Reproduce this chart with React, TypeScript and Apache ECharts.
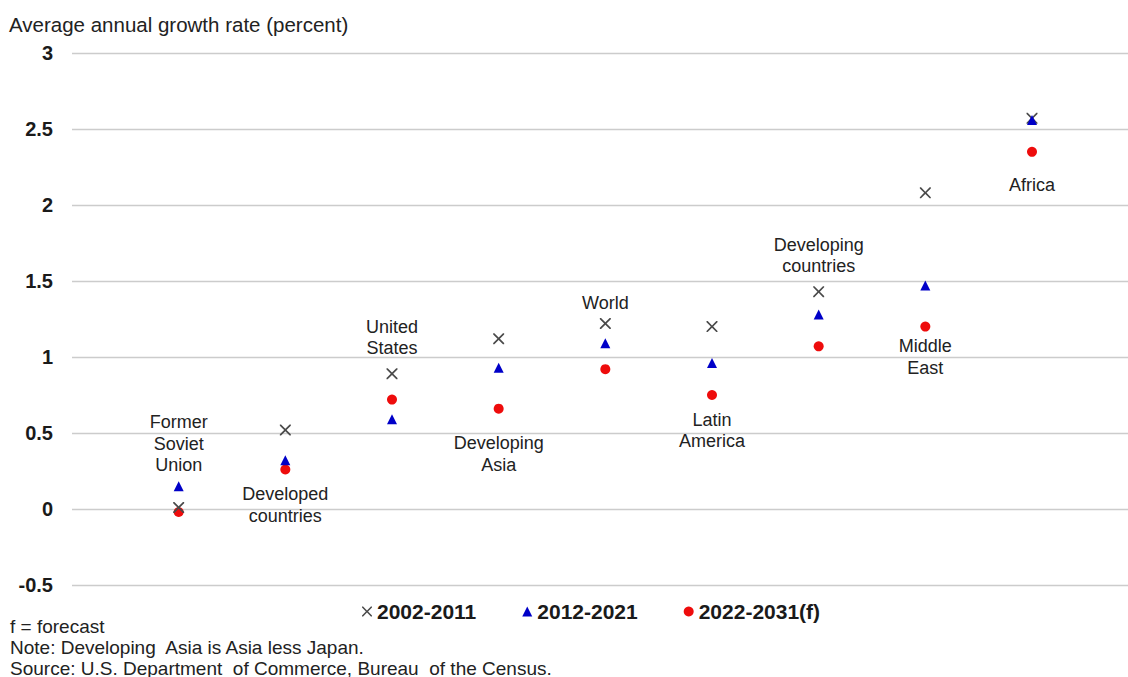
import React, { useEffect, useRef } from "react";
import * as echarts from "echarts";

const categories = [
  "Former\nSoviet\nUnion",
  "Developed\ncountries",
  "United\nStates",
  "Developing\nAsia",
  "World",
  "Latin\nAmerica",
  "Developing\ncountries",
  "Middle\nEast",
  "Africa",
];
const s2002 = [0.01, 0.52, 0.89, 1.12, 1.22, 1.2, 1.43, 2.08, 2.57];
const s2012 = [0.15, 0.32, 0.59, 0.93, 1.09, 0.96, 1.28, 1.47, 2.56];
const s2022 = [-0.02, 0.26, 0.72, 0.66, 0.92, 0.75, 1.07, 1.2, 2.35];
const seriesNames = ["2002-2011", "2012-2021", "2022-2031(f)"];
const yTicks = [-0.5, 0, 0.5, 1, 1.5, 2, 2.5, 3];
const footnotes = [
  "f = forecast",
  "Note: Developing  Asia is Asia less Japan.",
  "Source: U.S. Department  of Commerce, Bureau  of the Census.",
];

// which series carries each category's label, and where
const labelSpec: { s: number; pos: "top" | "bottom"; dist: number }[] = [
  { s: 1, pos: "top", dist: 5 },
  { s: 2, pos: "bottom", dist: 9 },
  { s: 0, pos: "top", dist: 9 },
  { s: 2, pos: "bottom", dist: 19 },
  { s: 0, pos: "top", dist: 4 },
  { s: 2, pos: "bottom", dist: 9 },
  { s: 0, pos: "top", dist: 9 },
  { s: 2, pos: "bottom", dist: 4 },
  { s: 2, pos: "bottom", dist: 17 },
];

const FONT = "'Liberation Sans', Arial, sans-serif";
const CROSS =
  "path://M0,0L1.1,0L5,3.9L8.9,0L10,0L10,1.1L6.1,5L10,8.9L10,10L8.9,10L5,6.1L1.1,10L0,10L0,8.9L3.9,5L0,1.1Z";

export default function App() {
  const ref = useRef<HTMLDivElement>(null);
  useEffect(() => {
    if (!ref.current) return;
    const chart = echarts.init(ref.current, undefined, { renderer: "svg" });
    const all = [s2002, s2012, s2022];
    const symbols = [CROSS, "triangle", "circle"];
    const colors = ["#4a4a4a", "#0000c8", "#ee0c0c"];
    const sizes = [11, 10, 10];
    const series = all.map((vals, si) => ({
      name: seriesNames[si],
      type: "scatter",
      symbol: symbols[si],
      symbolSize: sizes[si],
      itemStyle: { color: colors[si], opacity: 1 },
      z: si === 0 ? 3 : si === 1 ? 4 : 2,
      data: vals.map((v, i) => {
        const spec = labelSpec[i];
        const item: any = { value: [i + 1, v] };
        if (spec.s === si) {
          item.label = {
            show: true,
            formatter: categories[i],
            position: spec.pos,
            distance: spec.dist,
            fontSize: 18,
            lineHeight: 21.5,
            fontFamily: FONT,
            color: "#222222",
            align: "center",
          };
        }
        return item;
      }),
    }));
    chart.setOption({
      animation: false,
      textStyle: { fontFamily: FONT },
      title: {
        text: "Average annual growth rate (percent)",
        left: 9,
        top: 14,
        padding: 0,
        textStyle: { fontSize: 20.5, fontWeight: "normal", color: "#222222", fontFamily: FONT },
      },
      grid: { left: 72, right: 0, top: 53, bottom: 92 },
      xAxis: {
        type: "value",
        min: 0,
        max: 9.9,
        show: false,
        splitLine: { show: false },
      },
      yAxis: {
        type: "value",
        min: yTicks[0],
        max: yTicks[yTicks.length - 1],
        interval: 0.5,
        axisLine: { show: false },
        axisTick: { show: false },
        axisLabel: {
          fontSize: 20,
          fontWeight: "bold",
          color: "#1a1a1a",
          margin: 19,
          fontFamily: FONT,
          formatter: (v: number) => String(v),
        },
        splitLine: { lineStyle: { color: "#cccccc", width: 1.3 } },
      },
      legend: {
        left: 362,
        top: 601,
        padding: 0,
        itemGap: 46,
        itemWidth: 10,
        itemHeight: 10,
        textStyle: { fontSize: 21, fontWeight: "bold", color: "#1a1a1a", fontFamily: FONT },
        data: [
          { name: seriesNames[0], icon: CROSS, itemStyle: { color: "#4a4a4a" } },
          { name: seriesNames[1], icon: "triangle" },
          { name: seriesNames[2], icon: "circle" },
        ],
      },
      graphic: footnotes.map((t, i) => ({
        type: "text",
        x: 10,
        y: 626 + i * 21,
        style: { text: t, fontSize: 19, fill: "#222222", fontFamily: FONT, verticalAlign: "middle" },
      })),
      series,
    });
    return () => chart.dispose();
  }, []);
  return (
    <div
      ref={ref}
      style={{ position: "absolute", left: 0, top: 0, width: 1128, height: 677, background: "#fff" }}
    />
  );
}
